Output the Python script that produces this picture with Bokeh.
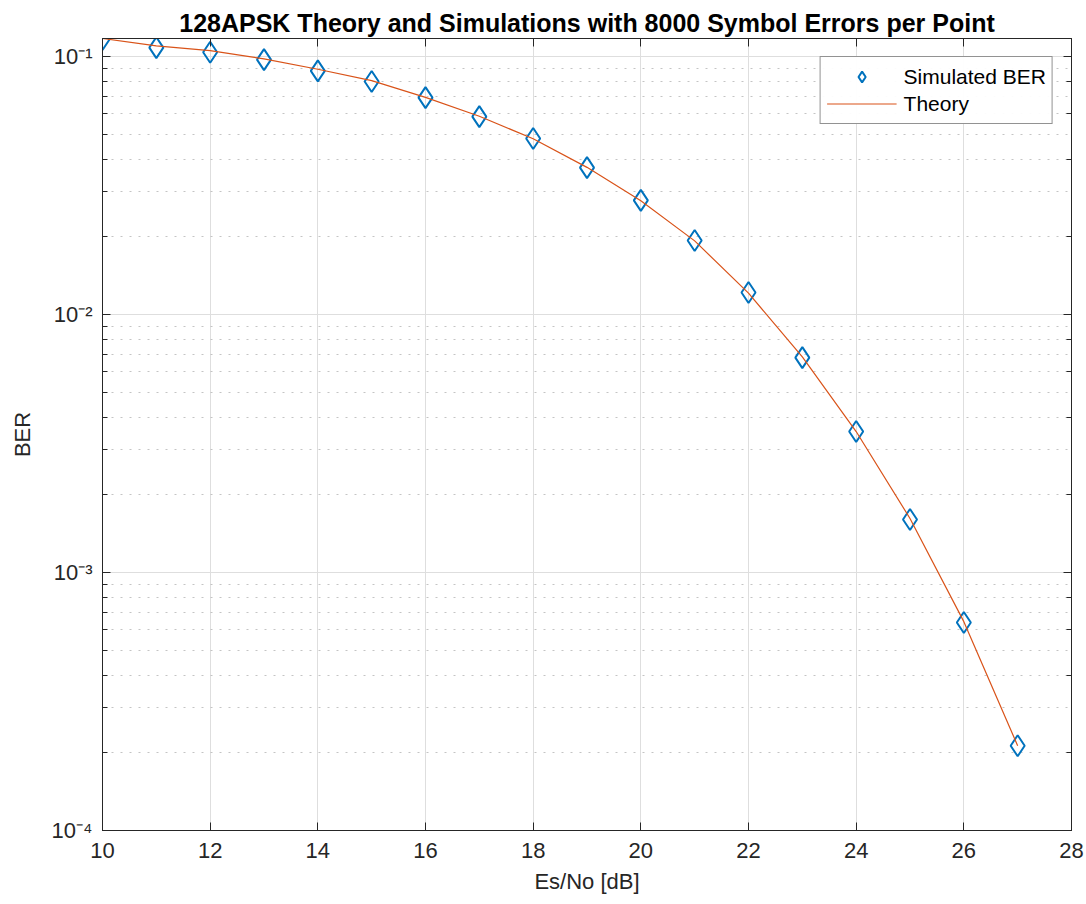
from bokeh.plotting import figure
from bokeh.models import (FixedTicker, LogTicker, LogAxis, LinearAxis, CustomJSTickFormatter,
                          Range1d, Legend, LegendItem)
from bokeh.embed import file_html
from bokeh.resources import INLINE

# ---- data ----
es_no = [10, 11, 12, 13, 14, 15, 16, 17, 18, 19, 20, 21, 22, 23, 24, 25, 26, 27]
ber_sim = [0.1164, 0.1083, 0.1039, 0.0973, 0.0880, 0.0800, 0.0693, 0.0585, 0.0481,
           0.0371, 0.0277, 0.01936, 0.01217, 0.00681, 0.00352, 0.001605, 0.000640, 0.000213]
ber_theory = [0.1175, 0.1100, 0.1055, 0.0979, 0.0893, 0.0807, 0.0695, 0.0587, 0.0480,
              0.0372, 0.0276, 0.0193, 0.0121, 0.00685, 0.00352, 0.00162, 0.000645, 0.000213]
x_ticks = [10, 12, 14, 16, 18, 20, 22, 24, 26, 28]
title_text = "128APSK Theory and Simulations with 8000 Symbol Errors per Point"
x_label = "Es/No [dB]"
y_label = "BER"

FONT = "Liberation Sans"
AX = "#262626"

p = figure(width=1084, height=900, y_axis_type="log",
           x_range=Range1d(10, 28), y_range=Range1d(1e-4, 0.1175),
           output_backend="svg", toolbar_location=None,
           min_border_left=102, min_border_right=13, min_border_top=38, min_border_bottom=70)

p.title.text = title_text
p.title.text_font = FONT
p.title.text_font_size = "25px"
p.title.text_font_style = "bold"
p.title.align = "center"
p.title.text_color = "black"
p.title.standoff = 3

sup_fmt = CustomJSTickFormatter(code="""
const e = Math.round(Math.log10(tick));
const sup = {'-':'\\u207B','0':'\\u2070','1':'\\u00B9','2':'\\u00B2','3':'\\u00B3','4':'\\u2074',
             '5':'\\u2075','6':'\\u2076','7':'\\u2077','8':'\\u2078','9':'\\u2079'};
return '10' + String(e).split('').map(c => sup[c]).join('');
""")

xt = FixedTicker(ticks=x_ticks)
p.xaxis.ticker = xt
p.yaxis.formatter = sup_fmt

for ax in (p.xaxis[0], p.yaxis[0]):
    ax.axis_line_color = AX
    ax.major_tick_line_color = AX
    ax.minor_tick_line_color = AX
    ax.major_tick_in = 8
    ax.major_tick_out = 0
    ax.minor_tick_in = 5
    ax.minor_tick_out = 0
    ax.major_label_text_font = FONT
    ax.major_label_text_font_size = "22px"
    ax.major_label_text_color = AX
    ax.axis_label_text_font = FONT
    ax.axis_label_text_font_size = "22px"
    ax.axis_label_text_font_style = "normal"
    ax.axis_label_text_color = AX
p.xaxis.minor_tick_line_color = None
p.xaxis.axis_label = x_label
p.yaxis.axis_label = y_label
p.xaxis.major_label_standoff = 12
p.yaxis.major_label_standoff = 10
p.xaxis.axis_label_standoff = 8
p.yaxis.axis_label_standoff = 14

# box axes (top / right) with inward ticks, invisible labels
top = LinearAxis(ticker=FixedTicker(ticks=x_ticks), major_label_text_font_size="1px",
                 major_label_text_alpha=0,
                 axis_line_color=AX, major_tick_line_color=AX, minor_tick_line_color=None,
                 major_tick_in=8, major_tick_out=0, major_label_standoff=0)
right = LogAxis(ticker=LogTicker(), major_label_text_font_size="1px",
                major_label_text_alpha=0,
                axis_line_color=AX, major_tick_line_color=AX, minor_tick_line_color=AX,
                major_tick_in=8, major_tick_out=0, minor_tick_in=5, minor_tick_out=0,
                major_label_standoff=0)
p.add_layout(top, "above")
p.add_layout(right, "right")
p.outline_line_color = AX

p.xgrid.ticker = xt
p.xgrid.grid_line_color = "#dedede"
p.ygrid.grid_line_color = "#dedede"
p.ygrid.minor_grid_line_color = "#c4c4c4"
p.ygrid.minor_grid_line_dash = "2 7"

sim = p.scatter(es_no, ber_sim, marker="diamond", size=21, fill_color=None,
                line_color="#0072BD", line_width=2)
th = p.line(es_no, ber_theory, line_color="#D95319", line_width=1.2)

legend = Legend(items=[LegendItem(label="Simulated BER", renderers=[sim]),
                       LegendItem(label="Theory", renderers=[th])],
                location="top_right")
legend.label_text_font = FONT
legend.label_text_font_size = "21px"
legend.label_text_color = "black"
legend.glyph_width = 70
legend.glyph_height = 27
legend.label_height = 27
legend.spacing = 0
legend.padding = 6
legend.margin = 18
legend.label_standoff = 7
legend.border_line_color = AX
legend.border_line_width = 1
legend.background_fill_color = "white"
p.add_layout(legend, "center")

open("out.html", "w", encoding="utf-8").write(file_html(p, INLINE))
